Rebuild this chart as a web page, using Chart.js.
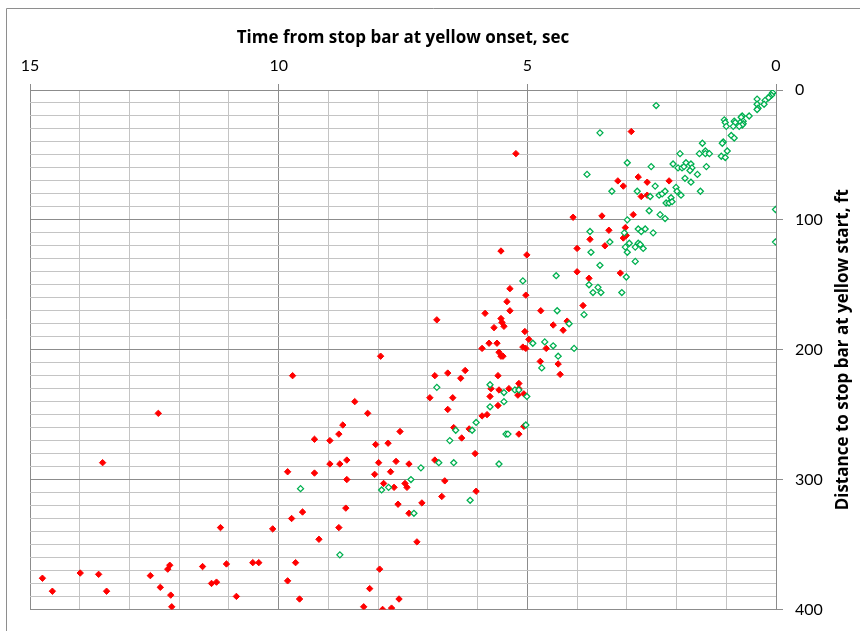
<!doctype html>
<html>
<head>
<meta charset="utf-8">
<style>
  html, body { margin: 0; padding: 0; background: #fff; }
  .wrap { position: relative; width: 860px; height: 631px; }
</style>
</head>
<body>
<div class="wrap"><canvas id="c" width="860" height="631"></canvas></div>
<script src="https://cdn.jsdelivr.net/npm/chart.js"></script>
<script>
// red = stopped / filled diamonds, green = went through / hollow diamonds
const redTime = [
  2.91, 5.23, 3.18, 3.07, 2.77, 2.59, 2.15, 2.59, 2.71, 4.08, 3.50, 2.87, 3.03, 3.36, 3.74, 3.07,
  3.01, 3.44, 4.00, 5.53, 5.01, 4.00, 3.13, 3.76, 5.35, 5.03, 5.41, 3.88, 5.35, 4.73, 5.85,
  6.82, 5.53, 5.51, 5.47, 5.67, 4.48, 4.20, 4.28, 5.05, 4.97, 4.62, 5.09, 5.03, 5.77, 5.61, 5.91,
  5.57, 5.53, 5.49, 4.74, 4.38, 4.34, 6.86, 6.60, 6.25, 6.34, 5.59, 5.73, 5.57, 5.37, 5.17, 5.17,
  5.19, 5.07, 5.75, 6.50, 6.96, 5.59, 6.60, 5.91, 5.81, 5.07, 6.48, 6.17, 6.32, 5.17, 6.05, 6.86,
  6.66, 6.03, 6.72,
  7.95, 9.72, 12.42, 13.54, 8.47, 8.21, 8.71, 8.79, 7.56, 9.28, 8.97, 8.05, 7.80, 8.63, 8.77, 8.97,
  7.99, 7.64, 7.38, 9.82, 9.28, 8.07, 7.75, 8.63, 7.89, 7.68, 7.46, 7.42, 7.60, 7.12, 8.65, 9.52,
  9.74, 7.38, 8.79, 11.17, 10.12, 9.19, 7.22, 9.66, 10.52, 10.40, 11.05, 11.53, 12.19, 12.23, 7.97,
  13.99, 13.62, 12.58, 14.75, 9.82, 11.35, 11.25, 12.38, 8.17, 14.55, 13.46, 12.17, 10.85, 9.58,
  7.58, 12.15, 8.29, 7.91, 7.73
];
const redDist = [
  32, 49, 70, 74, 67, 71, 70, 81, 82, 98, 97, 96, 106, 108, 115, 114,
  112, 120, 122, 124, 127, 140, 141, 145, 153, 158, 163, 166, 170, 170, 172,
  177, 176, 179, 182, 183, 181, 178, 185, 186, 192, 199, 198, 199, 195, 195, 199,
  202, 205, 205, 209, 211, 219, 220, 218, 216, 222, 220, 230, 231, 230, 226, 230,
  235, 234, 236, 237, 237, 243, 246, 251, 250, 259, 260, 261, 268, 265, 280, 285,
  301, 309, 313,
  205, 220, 249, 287, 240, 249, 258, 265, 263, 269, 270, 273, 272, 285, 288, 288,
  287, 286, 288, 294, 295, 296, 294, 300, 303, 306, 303, 306, 319, 318, 322, 325,
  330, 326, 337, 337, 338, 346, 348, 364, 364, 364, 365, 367, 366, 369, 369,
  372, 373, 374, 376, 378, 380, 379, 383, 384, 386, 386, 389, 390, 392,
  392, 398, 398, 400, 399
];
const greenTime = [
  0.01, 0.03, 0.07, 0.09, 0.13, 0.15, 0.22, 0.24, 0.38, 0.38, 0.36, 0.38, 0.54, 0.68, 0.70, 0.66,
  0.72, 0.66, 0.68, 0.74, 0.84, 0.82, 0.86, 1.04, 1.02, 1.00, 0.90, 0.84, 1.06, 1.08, 1.48, 0.98,
  1.10, 1.02, 1.54, 1.42, 1.42, 1.34, 1.93, 1.40, 1.58, 1.83, 1.71, 1.52, 2.07, 1.97, 1.89, 1.85,
  1.81, 1.71, 1.69, 1.73, 2.01, 1.99, 1.91, 2.35, 2.29, 2.23, 2.11, 2.21, 2.15, 2.09, 2.43, 2.51,
  2.79, 2.53, 2.55, 2.33, 2.23, 2.99, 3.80, 3.30, 3.54, 2.41, 0.01, 0.01, 2.99, 3.05, 2.77, 2.71,
  2.63, 2.47, 3.34, 3.03, 2.95, 2.83, 2.77, 2.73, 2.67, 2.99, 2.83, 3.74, 3.72, 3.54, 4.42, 5.09,
  3.01, 3.76, 3.58, 3.68, 3.52, 3.10, 4.40, 3.86,
  4.16, 4.89, 4.65, 4.48, 4.06, 4.38, 4.71, 6.82, 5.75, 5.47, 5.25, 5.17, 5.01, 5.47, 5.75, 6.03,
  5.03, 6.44, 6.11, 6.56, 5.43, 5.39, 6.78, 6.48, 5.57, 6.15,
  7.14, 7.34, 9.56, 7.93, 7.79, 7.28, 8.77
];
const greenDist = [
  0, 1, 2, 4, 5, 6, 8, 11, 7, 11, 14, 15, 20, 20, 21, 24,
  25, 26, 27, 28, 24, 25, 28, 23, 25, 28, 35, 37, 40, 41, 41, 47,
  51, 52, 49, 47, 49, 49, 49, 59, 65, 68, 71, 78, 57, 60, 60, 59,
  56, 57, 60, 62, 75, 78, 81, 81, 80, 78, 83, 87, 87, 86, 74, 59,
  78, 82, 93, 96, 99, 56, 65, 78, 33, 12, 92, 117, 100, 110, 107, 109,
  107, 110, 117, 121, 118, 121, 118, 119, 122, 125, 132, 109, 125, 135, 143, 147,
  144, 150, 152, 156, 156, 156, 170, 173,
  180, 195, 194, 197, 199, 205, 214, 229, 227, 233, 231, 231, 236, 240, 244, 256,
  258, 262, 262, 270, 265, 265, 287, 287, 288, 316,
  291, 300, 307, 308, 306, 326, 358
];
const xLabelEvery = 5;    // labels 15, 10, 5, 0
const yLabelEvery = 100;  // labels 0 .. 400
const xTitle = "Time from stop bar at yellow onset, sec";
const yTitle = "Distance to stop bar at yellow start, ft";

const FONT = "Lato, 'Open Sans', sans-serif";
const TITLE_FONT = "'Open Sans', Lato, sans-serif";
const MAJOR = "#8c8c8c";
const MINOR = "#c4c4c4";

function pts(xs, ys) {
  return xs.map((x, i) => ({ x: x, y: ys[i] }));
}

const frame = {
  id: "frame",
  beforeDraw(chart) {
    const ctx = chart.ctx;
    ctx.save();
    ctx.fillStyle = "#fff";
    ctx.fillRect(0, 0, chart.width, chart.height);
    ctx.strokeStyle = "#8e8e8e";
    ctx.lineWidth = 1;
    ctx.beginPath();
    ctx.moveTo(6.5, chart.height);
    ctx.lineTo(6.5, 8.5);
    ctx.lineTo(chart.width, 8.5);
    ctx.stroke();
    ctx.restore();
  },
  afterDraw(chart) {
    // y title reads bottom-to-top on the right side
    const ctx = chart.ctx;
    const a = chart.chartArea;
    ctx.save();
    ctx.translate(843, (a.top + a.bottom) / 2);
    ctx.rotate(-Math.PI / 2);
    ctx.fillStyle = "#000";
    ctx.font = "bold 17px " + TITLE_FONT;
    ctx.textAlign = "center";
    ctx.textBaseline = "middle";
    ctx.fillText(yTitle, 0, 0);
    ctx.restore();
  }
};

new Chart(document.getElementById("c"), {
  type: "scatter",
  data: {
    datasets: [
      {
        label: "green",
        data: pts(greenTime, greenDist),
        pointStyle: "rectRot",
        pointRadius: 3,
        pointBackgroundColor: "#fff",
        pointBorderColor: "#00b050",
        pointBorderWidth: 1.3
      },
      {
        label: "red",
        data: pts(redTime, redDist),
        pointStyle: "rectRot",
        pointRadius: 3.2,
        pointBackgroundColor: "#ff0000",
        pointBorderColor: "#ff0000",
        pointBorderWidth: 1
      }
    ]
  },
  options: {
    responsive: false,
    animation: false,
    layout: { padding: { left: 30, right: 0, top: 0, bottom: 15 } },
    plugins: { legend: { display: false }, tooltip: { enabled: false } },
    scales: {
      x: {
        type: "linear",
        position: "top",
        reverse: true,
        min: 0,
        max: 15,
        afterFit(s) { s.height = 90; },
        ticks: {
          stepSize: 1,
          autoSkip: false,
          maxRotation: 0,
          padding: 9,
          color: "#000",
          font: { family: FONT, size: 16 },
          callback: (v) => (v % xLabelEvery === 0 ? String(v) : "")
        },
        grid: {
          color: (c) => (c.tick && c.tick.value % xLabelEvery === 0 ? MAJOR : MINOR),
          tickColor: (c) => (c.tick && c.tick.value % xLabelEvery === 0 ? MAJOR : "rgba(0,0,0,0)"),
          tickLength: 6,
          lineWidth: 1
        },
        border: { color: MAJOR },
        title: {
          display: true,
          text: xTitle,
          color: "#000",
          font: { family: TITLE_FONT, size: 17, weight: "bold" },
          padding: { top: 28, bottom: 0 }
        }
      },
      y: {
        type: "linear",
        position: "right",
        reverse: true,
        min: 0,
        max: 400,
        afterFit(s) { s.width = 84; },
        ticks: {
          stepSize: 10,
          autoSkip: false,
          padding: 12,
          color: "#000",
          font: { family: FONT, size: 16 },
          callback: (v) => (v % yLabelEvery === 0 ? String(v) : "")
        },
        grid: {
          color: (c) => (c.tick && c.tick.value % yLabelEvery === 0 ? MAJOR : MINOR),
          tickColor: (c) => (c.tick && c.tick.value % yLabelEvery === 0 ? MAJOR : "rgba(0,0,0,0)"),
          tickLength: 7,
          lineWidth: 1
        },
        border: { color: MAJOR }
      }
    }
  },
  plugins: [frame]
});
</script>
</body>
</html>
